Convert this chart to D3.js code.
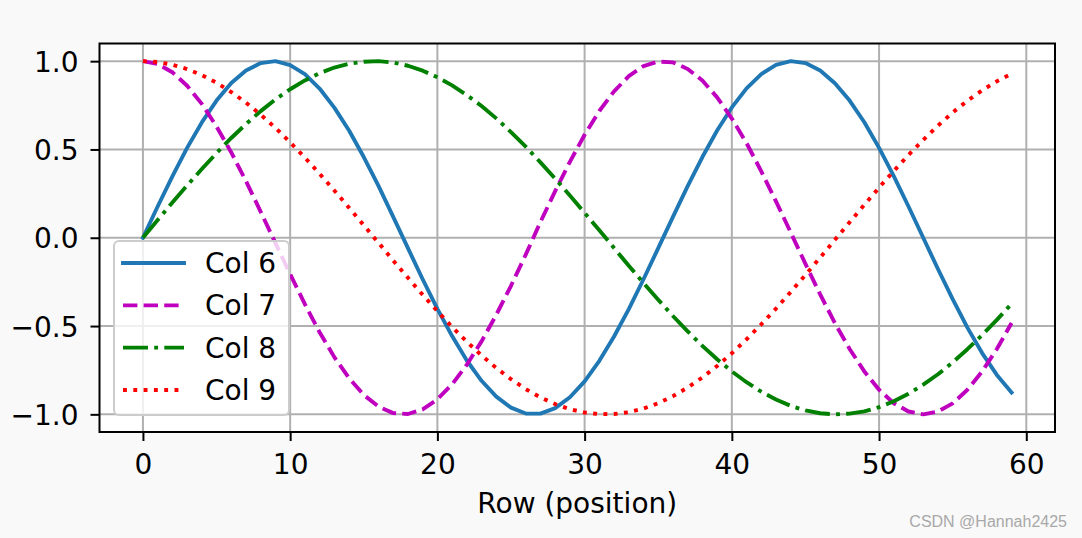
<!DOCTYPE html>
<html>
<head>
<meta charset="utf-8">
<script src="https://cdn.jsdelivr.net/npm/d3@7"></script>
<style>
  html, body { margin: 0; padding: 0; background: #f9f9f9; }
  svg { display: block; }
  text { font-family: "DejaVu Sans", sans-serif; }
</style>
</head>
<body>
<div id="chart"></div>
<script>
// ---- data ----
const rows = d3.range(0, 60);
const col6 = [0.000,0.177,0.348,0.509,0.653,0.777,0.876,0.947,0.989,1.000,0.978,0.927,0.845,0.737,0.607,0.457,0.294,0.118,-0.059,-0.235,-0.403,-0.557,-0.695,-0.810,-0.900,-0.962,-0.995,-0.996,-0.965,-0.903,-0.813,-0.697,-0.559,-0.404,-0.235,-0.059,0.118,0.292,0.457,0.607,0.738,0.846,0.927,0.979,1.000,0.989,0.947,0.875,0.777,0.654,0.509,0.349,0.177,0.000,-0.177,-0.348,-0.509,-0.653,-0.777,-0.876];
const col7 = [1.000,0.984,0.937,0.861,0.758,0.630,0.483,0.321,0.147,-0.030,-0.206,-0.376,-0.535,-0.676,-0.795,-0.890,-0.956,-0.993,-0.998,-0.972,-0.915,-0.830,-0.719,-0.587,-0.436,-0.272,-0.096,0.089,0.264,0.430,0.583,0.718,0.829,0.915,0.972,0.998,0.993,0.956,0.890,0.795,0.675,0.536,0.376,0.206,0.030,-0.148,-0.321,-0.483,-0.630,-0.757,-0.861,-0.937,-0.984,-1.000,-0.984,-0.938,-0.861,-0.757,-0.630,-0.483];
const col8 = [0.000,0.100,0.199,0.296,0.389,0.479,0.565,0.644,0.717,0.783,0.841,0.891,0.932,0.964,0.985,0.997,1.000,0.992,0.974,0.946,0.909,0.863,0.808,0.746,0.676,0.598,0.516,0.427,0.335,0.239,0.141,0.042,-0.058,-0.158,-0.256,-0.351,-0.443,-0.530,-0.612,-0.688,-0.757,-0.818,-0.872,-0.916,-0.952,-0.978,-0.994,-1.000,-0.996,-0.983,-0.959,-0.926,-0.884,-0.832,-0.773,-0.706,-0.631,-0.551,-0.465,-0.374];
const col9 = [1.000,0.995,0.980,0.955,0.921,0.878,0.825,0.765,0.697,0.622,0.540,0.454,0.362,0.268,0.170,0.071,-0.029,-0.129,-0.227,-0.323,-0.416,-0.505,-0.589,-0.666,-0.737,-0.801,-0.857,-0.904,-0.942,-0.971,-0.990,-0.999,-0.998,-0.988,-0.967,-0.937,-0.897,-0.848,-0.791,-0.726,-0.654,-0.575,-0.490,-0.401,-0.307,-0.211,-0.112,-0.012,0.088,0.187,0.284,0.378,0.469,0.554,0.635,0.709,0.776,0.835,0.886,0.928];
const seriesNames = ["Col 6", "Col 7", "Col 8", "Col 9"];
const xTicks = [0, 10, 20, 30, 40, 50, 60];
const yTicks = [1.0, 0.5, 0.0, -0.5, -1.0];
const xLabel = "Row (position)";
const watermark = "CSDN @Hannah2425";

// ---- layout ----
const W = 1082, H = 538;
const L = 99.5, R = 1055, T = 43.5, B = 432;
const FS = 28;

const series = [
  {name: seriesNames[0], values: col6, color: "#1f77b4", dash: null},
  {name: seriesNames[1], values: col7, color: "#bf00bf", dash: "14.4,6.2"},
  {name: seriesNames[2], values: col8, color: "#008000", dash: "25,6.2,3.9,6.2"},
  {name: seriesNames[3], values: col9, color: "#ff0000", dash: "3.9,6.4"}
];

const svg = d3.select("#chart").append("svg").attr("width", W).attr("height", H);
svg.append("rect").attr("width", W).attr("height", H).attr("fill", "#f9f9f9");

const x = d3.scaleLinear().domain([-2.95, 61.95]).range([L, R]);
const y = d3.scaleLinear().domain([-1.1, 1.1]).range([B, T]);

svg.append("rect").attr("x", L).attr("y", T).attr("width", R - L).attr("height", B - T).attr("fill", "#ffffff");

svg.append("clipPath").attr("id", "clip").append("rect")
  .attr("x", L).attr("y", T).attr("width", R - L).attr("height", B - T);

// grid
const grid = svg.append("g");
grid.selectAll(".gx").data(xTicks).enter().append("line")
  .attr("x1", d => x(d)).attr("x2", d => x(d)).attr("y1", T).attr("y2", B)
  .attr("stroke", "#b0b0b0").attr("stroke-width", 2);
grid.selectAll(".gy").data(yTicks).enter().append("line")
  .attr("x1", L).attr("x2", R).attr("y1", d => y(d)).attr("y2", d => y(d))
  .attr("stroke", "#b0b0b0").attr("stroke-width", 2);

// lines
const line = d3.line().x((d, i) => x(rows[i])).y(d => y(d));
const lg = svg.append("g").attr("clip-path", "url(#clip)");
series.forEach(s => {
  lg.append("path").datum(s.values).attr("d", line)
    .attr("fill", "none").attr("stroke", s.color).attr("stroke-width", 3.9)
    .attr("stroke-dasharray", s.dash).attr("stroke-linejoin", "round")
    .attr("stroke-linecap", s.dash ? "butt" : "square");
});

// axes (ticks)
const xAxis = d3.axisBottom(x).tickValues(xTicks).tickSize(9).tickPadding(13).tickFormat(d3.format("d"));
const yAxis = d3.axisLeft(y).tickValues(yTicks).tickSize(9).tickPadding(12)
  .tickFormat(d => d3.format(".1f")(d).replace("-", "\u2212"));

const gx = svg.append("g").attr("transform", `translate(0,${B})`).call(xAxis);
const gy = svg.append("g").attr("transform", `translate(${L},0)`).call(yAxis);
[gx, gy].forEach(g => {
  g.select(".domain").remove();
  g.selectAll(".tick line").attr("stroke", "#000").attr("stroke-width", 2);
  g.selectAll(".tick text").attr("fill", "#000").style("font-size", FS + "px")
    .style("font-family", "'DejaVu Sans', sans-serif");
});
gx.selectAll(".tick text").attr("dy", null).attr("y", 474 - B).attr("dominant-baseline", "alphabetic");
gy.selectAll(".tick text").attr("dy", "0.36em");

// spines
svg.append("rect").attr("x", L).attr("y", T).attr("width", R - L).attr("height", B - T)
  .attr("fill", "none").attr("stroke", "#000").attr("stroke-width", 2);

// x label
svg.append("text").attr("x", (L + R) / 2).attr("y", 512.5).attr("text-anchor", "middle")
  .style("font-size", FS + "px").attr("fill", "#000").text(xLabel);

// legend
const leg = svg.append("g");
leg.append("rect").attr("x", 114).attr("y", 241).attr("width", 175).attr("height", 174)
  .attr("rx", 5).attr("fill", "#ffffff").attr("fill-opacity", 0.8)
  .attr("stroke", "#cccccc").attr("stroke-width", 2);
const legY = d3.scalePoint().domain(seriesNames).range([263, 390]);
series.forEach(s => {
  const yy = legY(s.name);
  leg.append("line").attr("x1", 123).attr("x2", 184).attr("y1", yy).attr("y2", yy)
    .attr("stroke", s.color).attr("stroke-width", 3.9).attr("stroke-dasharray", s.dash)
    .attr("stroke-linecap", s.dash ? "butt" : "square");
  leg.append("text").attr("x", 205).attr("y", yy).attr("dy", "0.36em")
    .style("font-size", FS + "px").attr("fill", "#000").text(s.name);
});

// watermark
svg.append("text").attr("x", 1067).attr("y", 527).attr("text-anchor", "end")
  .style("font-family", "'Liberation Sans', Arial, sans-serif").style("font-size", "16px")
  .attr("fill", "#a8a8a8").text(watermark);
</script>
</body>
</html>
